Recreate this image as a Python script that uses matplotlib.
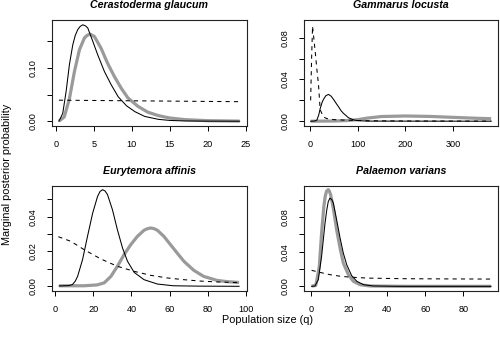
import matplotlib
matplotlib.use("Agg")
import matplotlib.pyplot as plt

plt.rcParams['font.family'] = ['Liberation Sans', 'DejaVu Sans']

# ---------------- data ----------------
titles = ["Cerastoderma glaucum", "Gammarus locusta", "Eurytemora affinis", "Palaemon varians"]

# Panel 1: Cerastoderma glaucum
p1_black_x = [0.4, 0.9, 1.34, 1.78, 2.22, 2.55, 2.88, 3.2, 3.54, 3.9, 4.2, 4.86, 5.5, 6.4, 7.3, 8.2, 9.3, 10.4, 11.7, 13.5, 15, 17, 20, 24.2]
p1_black_y = [0, 0.0145, 0.055, 0.106, 0.143, 0.161, 0.172, 0.178, 0.181, 0.179, 0.175, 0.150, 0.125, 0.093, 0.068, 0.046, 0.029, 0.018, 0.009, 0.0035, 0.0015, 0.0005, 0.0001, 0]
p1_gray_x = [0.4, 1.1, 1.78, 2.44, 3.1, 3.75, 4.1, 4.5, 5.07, 5.95, 6.8, 7.7, 8.6, 9.5, 10.8, 12.1, 13.5, 15, 17, 20, 24.2]
p1_gray_y = [0, 0.008, 0.042, 0.093, 0.134, 0.156, 0.161, 0.1636, 0.159, 0.137, 0.109, 0.084, 0.062, 0.0435, 0.028, 0.017, 0.0105, 0.006, 0.003, 0.001, 0.0002]
p1_dash_x = [0.4, 6, 12, 18, 24.2]
p1_dash_y = [0.0395, 0.0388, 0.0381, 0.0374, 0.0367]

# Panel 2: Gammarus locusta
p2_black_x = [1, 10, 14, 18, 21, 25, 28, 33, 38.5, 44, 49, 54, 59.4, 65, 70, 80.5, 91, 100, 120, 380]
p2_black_y = [0, 0.0002, 0.001, 0.006, 0.012, 0.018, 0.021, 0.0245, 0.0257, 0.024, 0.021, 0.0175, 0.0139, 0.010, 0.0075, 0.0033, 0.0013, 0.0005, 0.0001, 0]
p2_gray_x = [1, 50, 80, 100, 120, 150, 200, 250, 300, 350, 380]
p2_gray_y = [0, 0.0002, 0.0007, 0.0015, 0.003, 0.0045, 0.005, 0.0046, 0.0037, 0.0028, 0.0024]
p2_dash_x = [1, 3, 5, 8, 10.5, 14, 17.5, 21, 25, 28, 35, 50, 75, 100, 130, 200, 380]
p2_dash_y = [0.020, 0.06, 0.091, 0.078, 0.067, 0.05, 0.035, 0.011, 0.007, 0.004, 0.0025, 0.0015, 0.001, 0.0007, 0.0004, 0.0002, 0.0001]

# Panel 3: Eurytemora affinis
p3_black_x = [2, 7, 9, 10.5, 11.7, 14.3, 16.9, 19.6, 22.2, 23.5, 24.8, 26.1, 27.4, 30, 32.6, 35.3, 37.9, 41.4, 46.6, 53.6, 62, 75, 96.5]
p3_black_y = [0.0002, 0.0004, 0.001, 0.003, 0.0057, 0.0153, 0.0287, 0.042, 0.0517, 0.0545, 0.0555, 0.0548, 0.0527, 0.044, 0.0325, 0.022, 0.0144, 0.008, 0.0038, 0.0013, 0.0003, 0.0001, 0]
p3_gray_x = [2, 15, 22, 25.7, 29.2, 32.6, 36.1, 39.6, 43.1, 46.6, 48.4, 50.1, 51.9, 53.6, 57, 60.5, 64, 67.5, 72.7, 77.9, 84.9, 90, 96.5]
p3_gray_y = [0.0003, 0.0003, 0.0008, 0.002, 0.0057, 0.0115, 0.0182, 0.0239, 0.0287, 0.0322, 0.0331, 0.0335, 0.0331, 0.0322, 0.0287, 0.0239, 0.0191, 0.0144, 0.0092, 0.0057, 0.0034, 0.0027, 0.0022]
p3_dash_x = [1.6, 8.2, 15.2, 23.9, 32.6, 41.4, 50.1, 58.8, 67.5, 76.2, 84.9, 96.5]
p3_dash_y = [0.0285, 0.0258, 0.021, 0.0157, 0.0115, 0.0086, 0.0063, 0.0048, 0.0038, 0.003, 0.0025, 0.0021]

# Panel 4: Palaemon varians
p4_black_x = [0.35, 2.1, 3.86, 5.6, 7.4, 8.3, 9.1, 10, 10.9, 11.75, 13.5, 15.3, 17.0, 18.8, 21.4, 24.1, 27.6, 32.9, 45, 94.6]
p4_black_y = [0, 0.0003, 0.0077, 0.0347, 0.073, 0.088, 0.098, 0.102, 0.1005, 0.0965, 0.077, 0.056, 0.0385, 0.025, 0.0123, 0.0058, 0.0019, 0.0004, 0, 0]
p4_gray_x = [0.35, 2.5, 3.0, 4.4, 5.6, 6.8, 7.5, 8.2, 9.1, 9.7, 10.35, 11.75, 13.5, 15.3, 17.0, 19.7, 22.3, 25.8, 31, 50, 94.6]
p4_gray_y = [0.0003, 0.001, 0.0058, 0.023, 0.0617, 0.0926, 0.104, 0.110, 0.1118, 0.110, 0.106, 0.0906, 0.0655, 0.0443, 0.027, 0.0134, 0.0058, 0.0019, 0.0004, 0, 0]
p4_dash_x = [0.35, 5, 10, 15, 20, 30, 50, 70, 94.6]
p4_dash_y = [0.0185, 0.016, 0.0135, 0.0118, 0.0107, 0.0095, 0.0088, 0.0086, 0.0084]

xticks = [[0, 5, 10, 15, 20, 25], [0, 100, 200, 300], [0, 20, 40, 60, 80, 100], [0, 20, 40, 60, 80]]
yticks = [[0, 0.05, 0.10, 0.15], [0, 0.02, 0.04, 0.06, 0.08], [0, 0.01, 0.02, 0.03, 0.04, 0.05], [0, 0.02, 0.04, 0.06, 0.08, 0.10]]
ytick_labels = [["0.00", "", "0.10", ""], ["0.00", "", "0.04", "", "0.08"],
                ["0.00", "", "0.02", "", "0.04", ""], ["0.00", "", "0.04", "", "0.08", ""]]
xlims = [(-0.55, 25.1), (-14.0, 395.0), (-1.9, 100.4), (-3.9, 98.4)]
ylims = [(-0.0086, 0.1900), (-0.0044, 0.0970), (-0.0027, 0.0578), (-0.0054, 0.1164)]

series = [
    (p1_black_x, p1_black_y, p1_gray_x, p1_gray_y, p1_dash_x, p1_dash_y),
    (p2_black_x, p2_black_y, p2_gray_x, p2_gray_y, p2_dash_x, p2_dash_y),
    (p3_black_x, p3_black_y, p3_gray_x, p3_gray_y, p3_dash_x, p3_dash_y),
    (p4_black_x, p4_black_y, p4_gray_x, p4_gray_y, p4_dash_x, p4_dash_y),
]

# ---------------- layout (pixels) ----------------
W, H = 500, 340
fig = plt.figure(figsize=(W / 100, H / 100), dpi=100)
boxes = [(51.7, 246.5, 20.0, 125.8), (303.5, 498.3, 20.0, 125.8),
         (51.7, 246.5, 185.7, 291.0), (303.5, 498.3, 185.7, 291.0)]

fs = 6.6
for i, (l, r, t, b) in enumerate(boxes):
    ax = fig.add_axes([l / W, 1 - b / H, (r - l) / W, (b - t) / H])
    bx, by, gx, gy, dx, dy = series[i]
    ax.plot(gx, gy, color="#9a9a9a", lw=2.3, solid_capstyle="butt", solid_joinstyle="round", zorder=2)
    ax.plot(bx, by, color="black", lw=0.75, zorder=3)
    ax.plot(dx, dy, color="black", lw=0.75, dashes=(4, 4), zorder=3)
    ax.set_xlim(*xlims[i])
    ax.set_ylim(*ylims[i])
    ax.set_xticks(xticks[i])
    ax.set_xticklabels([str(v) for v in xticks[i]])
    ax.set_yticks(yticks[i])
    ax.set_yticklabels(ytick_labels[i], rotation=90, va="center")
    ax.tick_params(axis="both", length=3.4, width=0.7, labelsize=fs, colors="black")
    ax.tick_params(axis="x", pad=7.0)
    ax.tick_params(axis="y", pad=6.5)
    for s in ax.spines.values():
        s.set_linewidth(0.8)
        s.set_color("#222222")
    ax.text(0.5, 1 + 14.5 / (b - t), titles[i], transform=ax.transAxes, ha="center", va="center",
            fontsize=7.7, fontweight="bold", fontstyle="italic")

fig.text(268 / W, 1 - 320 / H, "Population size (q)", ha="center", va="center", fontsize=7.8)
fig.text(7.5 / W, 1 - 174 / H, "Marginal posterior probability", ha="center", va="center",
         rotation=90, fontsize=7.8)

fig.savefig("out.png", dpi=100)
